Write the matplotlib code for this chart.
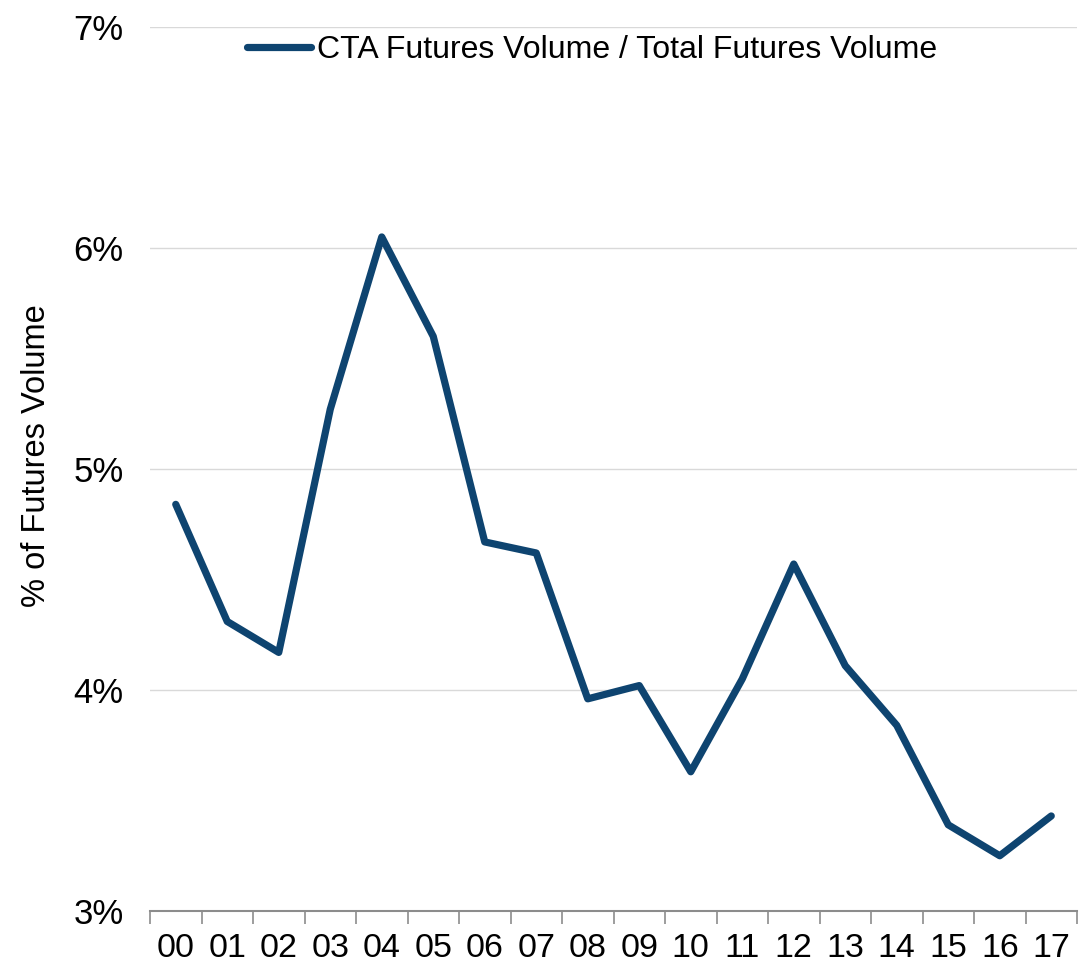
import numpy as np
import matplotlib
matplotlib.use("Agg")
import matplotlib.pyplot as plt
from matplotlib.ticker import FixedLocator, FuncFormatter

plt.rcParams['font.family'] = ['Liberation Sans', 'DejaVu Sans']

years = ['00', '01', '02', '03', '04', '05', '06', '07', '08',
         '09', '10', '11', '12', '13', '14', '15', '16', '17']
cta_share = [4.84, 4.31, 4.17, 5.27, 6.05, 5.60, 4.67, 4.62, 3.96,
             4.02, 3.63, 4.05, 4.57, 4.11, 3.84, 3.39, 3.25, 3.43]

fig = plt.figure(figsize=(10.79, 9.63), dpi=100)
ax = fig.add_axes([150 / 1079, 1 - 911 / 963, 927 / 1079, (911 - 27) / 963])

x = np.arange(len(years))
line, = ax.plot(x, cta_share, color='#0E4470', lw=5.2, solid_joinstyle='round',
                solid_capstyle='round',
                label='CTA Futures Volume / Total Futures Volume')

ax.set_xlim(-0.5, len(years) - 0.5)
ax.set_ylim(3, 7)
ax.set_yticks([3, 4, 5, 6, 7])
ax.yaxis.set_major_formatter(FuncFormatter(lambda v, p: f'{v:.0f}%'))
ax.grid(axis='y', color='#d9d9d9', lw=1)
ax.set_axisbelow(True)

ax.set_xticks(x)
ax.set_xticklabels(years)
ax.xaxis.set_minor_locator(FixedLocator(np.arange(-0.5, len(years), 1)))
ax.tick_params(axis='x', which='major', length=0, labelsize=24.5, pad=16)
ax.tick_params(axis='x', which='minor', length=9, color='#8c8c8c', width=1.2,
               direction='out')
ax.tick_params(axis='y', length=0, labelsize=25, pad=19)

for s in ['top', 'right', 'left']:
    ax.spines[s].set_visible(False)
ax.spines['bottom'].set_color('#8c8c8c')
ax.spines['bottom'].set_linewidth(1.5)

ax.set_ylabel('% of Futures Volume', fontsize=23.5)
ax.yaxis.set_label_coords(-0.106, 0.515)

fig.legend(handles=[line], loc='center', bbox_to_anchor=(592 / 1079, 1 - 50 / 963),
           frameon=False, fontsize=23, handlelength=2.0, handletextpad=0.2)

fig.savefig('out.png', dpi=100)
